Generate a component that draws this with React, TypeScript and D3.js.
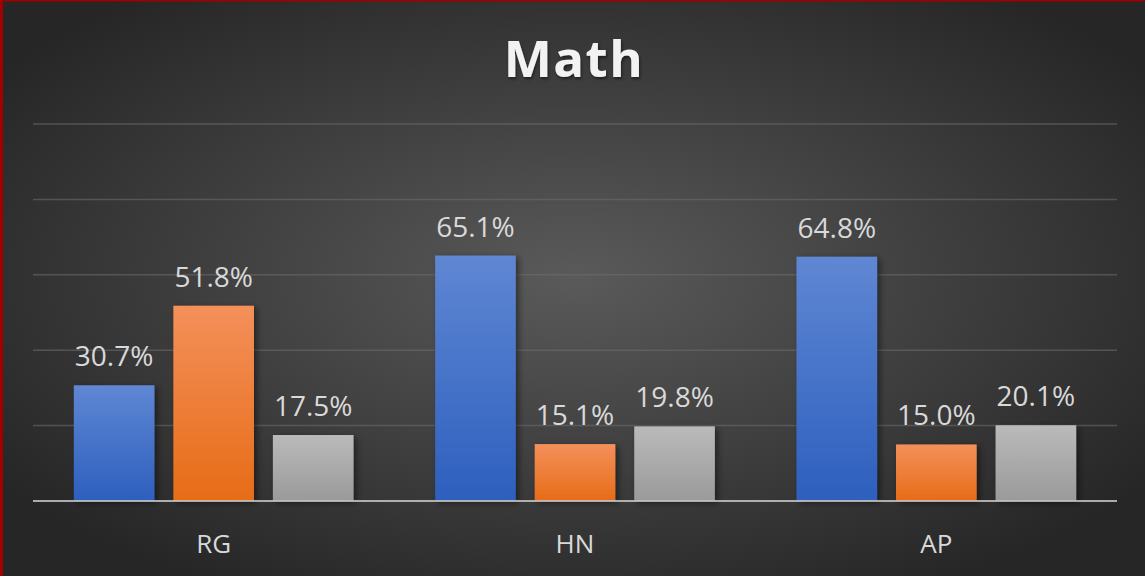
import * as d3 from 'd3';

const categories = ['RG', 'HN', 'AP'];
const seriesNames = ['A', 'B', 'C'];
const values = [
  [30.7, 51.8, 17.5],
  [65.1, 15.1, 19.8],
  [64.8, 15.0, 20.1],
];
const gridTicks = [0, 20, 40, 60, 80, 100];

const W = 1145;
const H = 576;
const margin = { top: 124, right: 28, bottom: 75, left: 33 };

const grads = [
  { id: 'gBlue', top: '#5f87d3', bottom: '#2d5fbe' },
  { id: 'gOrange', top: '#f4905a', bottom: '#e76c17' },
  { id: 'gGray', top: '#bababa', bottom: '#9a9a9a' },
];

const labelFont = '"Open Sans", "Noto Sans", sans-serif';

export default function App() {
  const x0 = d3
    .scaleBand()
    .domain(categories)
    .range([margin.left, W - margin.right])
    .paddingInner(0)
    .paddingOuter(0);

  const x1 = d3
    .scaleBand()
    .domain(seriesNames)
    .range([0, x0.bandwidth()])
    .paddingInner(0.19)
    .paddingOuter(0.41);

  const y = d3
    .scaleLinear()
    .domain([0, 100])
    .range([H - margin.bottom, margin.top]);

  return (
    <div style={{ position: 'fixed', left: 0, top: 0 }}>
      <svg width={W} height={H} style={{ display: 'block' }}>
        <defs>
          <radialGradient id="bg" cx="50%" cy="48%" r="62%" fx="50%" fy="48%">
            <stop offset="0%" stopColor="#5a5a5a" />
            <stop offset="100%" stopColor="#262626" />
          </radialGradient>
          {grads.map(g => (
            <linearGradient key={g.id} id={g.id} x1="0" y1="0" x2="0" y2="1">
              <stop offset="0%" stopColor={g.top} />
              <stop offset="100%" stopColor={g.bottom} />
            </linearGradient>
          ))}
          <filter id="shadow" x="-20%" y="-20%" width="150%" height="150%">
            <feDropShadow dx="3" dy="2" stdDeviation="3" floodColor="#000" floodOpacity="0.45" />
          </filter>
          <filter id="tshadow" x="-10%" y="-10%" width="130%" height="140%">
            <feDropShadow dx="1" dy="2" stdDeviation="1.5" floodColor="#000" floodOpacity="0.5" />
          </filter>
        </defs>

        <rect x={0} y={0} width={W} height={H} fill="#a00000" />
        <rect x={3} y={1.5} width={W - 3} height={H - 1.5} fill="url(#bg)" />

        <text
          x={574}
          y={77}
          textAnchor="middle"
          fill="#f2f2f2"
          fontFamily={labelFont}
          fontWeight={700}
          fontSize={51}
          letterSpacing={1.5}
          filter="url(#tshadow)"
        >
          Math
        </text>

        {gridTicks.slice(1).map(t => (
          <line
            key={t}
            x1={margin.left}
            x2={W - margin.right}
            y1={y(t)}
            y2={y(t)}
            stroke="#6a6a6a"
            strokeOpacity={0.6}
            strokeWidth={1.5}
          />
        ))}

        {categories.map((c, ci) => (
          <g key={c} transform={`translate(${x0(c)},0)`}>
            {seriesNames.map((s, si) => {
              const v = values[ci][si];
              const bx = x1(s)!;
              return (
                <g key={s}>
                  <rect
                    x={bx}
                    y={y(v)}
                    width={x1.bandwidth()}
                    height={y(0) - y(v)}
                    fill={`url(#${grads[si].id})`}
                    filter="url(#shadow)"
                  />
                  <text
                    x={bx + x1.bandwidth() / 2}
                    y={y(v) - 19}
                    textAnchor="middle"
                    fill="#d9d9d9"
                    fontFamily={labelFont}
                    fontSize={28}
                  >
                    {v.toFixed(1)}%
                  </text>
                </g>
              );
            })}
            <text
              x={x0.bandwidth() / 2}
              y={553}
              textAnchor="middle"
              fill="#d9d9d9"
              fontFamily={labelFont}
              fontSize={26}
            >
              {c}
            </text>
          </g>
        ))}

        <line
          x1={margin.left}
          x2={W - margin.right}
          y1={y(0)}
          y2={y(0)}
          stroke="#c4c4c4"
          strokeWidth={2}
          strokeOpacity={0.85}
        />
      </svg>
    </div>
  );
}
